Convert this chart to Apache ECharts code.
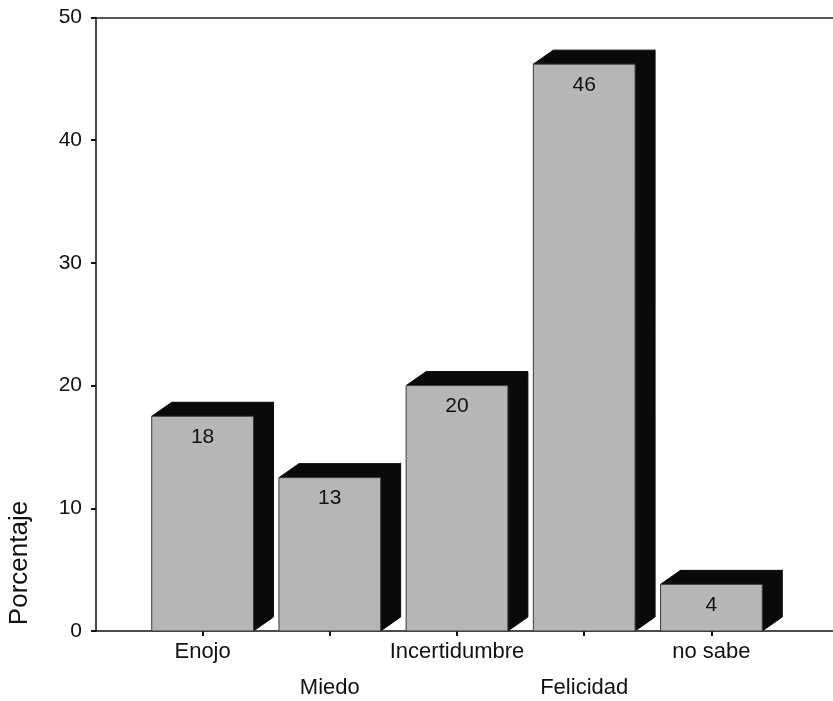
<!DOCTYPE html>
<html>
<head>
<meta charset="utf-8">
<script src="https://cdn.jsdelivr.net/npm/echarts@6/dist/echarts.min.js"></script>
<style>
html,body{margin:0;padding:0;background:#fff;}
#chart{width:833px;height:701px;}
</style>
</head>
<body>
<div id="chart"></div>
<script>
const categories = ['Enojo', 'Miedo', 'Incertidumbre', 'Felicidad', 'no sabe'];
const percentages = [17.5, 12.5, 20.0, 46.2, 3.8];
const yMin = 0, yMax = 50, yStep = 10;
const yTitle = 'Porcentaje';

const FONT = '"Liberation Sans", Arial, Helvetica, sans-serif';
const chart = echarts.init(document.getElementById('chart'), null, {renderer: 'canvas'});

function renderBar(params, api) {
  const xi = api.value(0), v = api.value(1);
  const top = api.coord([xi, v]);
  const base = api.coord([xi, 0]);
  const bw = api.size([1, 0])[0] * 0.8;
  const x0 = top[0] - bw / 2, x1 = top[0] + bw / 2;
  const dx = 20, dy = -14;
  return {
    type: 'group',
    children: [
      {type: 'polygon', shape: {points: [[x1, top[1]], [x1 + dx, top[1] + dy], [x1 + dx, base[1] + dy], [x1, base[1]]]},
       style: {fill: '#0a0a0a', stroke: '#0a0a0a', lineWidth: 1}},
      {type: 'polygon', shape: {points: [[x0, top[1]], [x0 + dx, top[1] + dy], [x1 + dx, top[1] + dy], [x1, top[1]]]},
       style: {fill: '#0a0a0a', stroke: '#0a0a0a', lineWidth: 1}},
      {type: 'rect', shape: {x: x0, y: top[1], width: bw, height: base[1] - top[1]},
       style: {fill: '#b6b6b6', stroke: '#3a3a3a', lineWidth: 1}},
      {type: 'text', style: {text: String(Math.round(v)), x: top[0], y: top[1] + 21,
        align: 'center', verticalAlign: 'middle', font: '21px ' + FONT, fill: '#111'}}
    ]
  };
}

const option = {
  backgroundColor: '#fff',
  animation: false,
  grid: [
    {left: 96, right: 0, top: 17.5, bottom: 70, containLabel: false, outerBoundsMode: 'none'},
    {left: 139, right: 58, top: 17.5, bottom: 70, containLabel: false, outerBoundsMode: 'none'}
  ],
  xAxis: [
    {type: 'value', gridIndex: 0, position: 'bottom', min: 0, max: 1,
     axisLine: {show: true, lineStyle: {color: '#111', width: 1.5}},
     axisTick: {show: false}, axisLabel: {show: false}, splitLine: {show: false}},
    {type: 'value', gridIndex: 0, position: 'top', min: 0, max: 1,
     axisLine: {show: true, lineStyle: {color: '#222', width: 1.5}},
     axisTick: {show: false}, axisLabel: {show: false}, splitLine: {show: false}},
    {type: 'category', gridIndex: 1, data: categories, boundaryGap: true,
     axisLine: {show: false},
     axisTick: {show: true, alignWithLabel: true, length: 5, lineStyle: {color: '#111', width: 2}},
     axisLabel: {show: true, interval: 0, margin: 3, color: '#111', fontSize: 22, fontFamily: FONT, lineHeight: 36,
       formatter: function (val, idx) { return idx % 2 ? '\n' + val : val; }},
     splitLine: {show: false}}
  ],
  yAxis: [
    {type: 'value', gridIndex: 0, min: yMin, max: yMax, interval: yStep,
     axisLine: {show: true, lineStyle: {color: '#111', width: 1.5}},
     axisTick: {show: true, inside: false, length: 5, lineStyle: {color: '#111', width: 2}},
     axisLabel: {margin: 14, color: '#111', fontSize: 21, fontFamily: FONT},
     splitLine: {show: false}},
    {type: 'value', gridIndex: 1, min: yMin, max: yMax, interval: yStep, show: false}
  ],
  graphic: [
    {type: 'text', x: 20, y: 563, rotation: Math.PI / 2,
     style: {text: yTitle, font: '26px ' + FONT, fill: '#111', align: 'center', verticalAlign: 'middle'}}
  ],
  series: [
    {type: 'custom', xAxisIndex: 2, yAxisIndex: 1, renderItem: renderBar,
     encode: {x: 0, y: 1},
     data: categories.map(function (c, i) { return [i, percentages[i]]; })}
  ]
};
chart.setOption(option);
</script>
</body>
</html>
